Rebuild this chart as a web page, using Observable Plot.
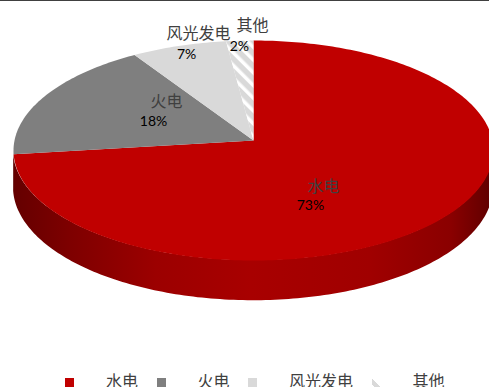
<!DOCTYPE html>
<html lang="zh">
<head>
<meta charset="utf-8">
<script src="https://cdn.jsdelivr.net/npm/d3@7"></script>
<script src="https://cdn.jsdelivr.net/npm/@observablehq/plot@0.6"></script>
<style>
  html, body { margin: 0; padding: 0; background: #fff; }
  #page { position: relative; width: 489px; height: 387px; overflow: hidden; border-top: 0; }
  #page::before { content: ""; position: absolute; left: 0; right: 0; top: 0; height: 1px; background: #404040; z-index: 2; }
  #legend {
    position: absolute; left: 65px; top: 369px; display: flex; align-items: flex-start;
    font: 16px/22px "Noto Sans CJK SC", sans-serif; color: #404040; white-space: nowrap;
  }
  #legend .item { display: flex; margin-right: 18.5px; }
  #legend .swatch { width: 9px; height: 9px; margin: 9px 32px 0 0; }
</style>
</head>
<body>
<div id="page"></div>
<script>
// Generation mix shares, in percent
const sources = ["水电", "火电", "风光发电", "其他"];
const shares = [73, 18, 7, 2];

// Appearance and layout of the tilted pie
const fills = ["#C00000", "#7F7F7F", "#D9D9D9", "url(#hatch)"];
const wallFills = ["url(#redWall)", "#5f5f5f", "#a3a3a3", "#a3a3a3"];
const namePlace = [[0.293, 0.422], [-0.364, -0.357], [-0.230, -0.981], [-0.004, -1.054]];
const sharePlace = [[0.238, 0.596], [-0.418, -0.174], [-0.280, -0.788], [-0.059, -0.862]];
const tilt = 1 / 11;     // perspective strength: the near rim looks larger than the far rim
const depth = 0.335;     // thickness of the disc

const width = 489, height = 366;
const unitX = 239, unitY = 109.09, cx = 253, cy = 140;

// Projects a clockwise angle from 12 o'clock (in degrees) onto the tilted disc.
function rim(deg) {
  const t = deg * Math.PI / 180;
  const z = -Math.cos(t), w = 1 - tilt * z;
  return { x: Math.sin(t) / w, y: z / w };
}

// Slice outlines and the visible part of each slice's side wall
const slices = [], walls = [];
const silhouette = Math.acos(tilt) * 180 / Math.PI;
const wallFrom = 90 + (90 - silhouette), wallTo = 270 - (90 - silhouette);
let running = 0;
sources.forEach((name, i) => {
  const a0 = running * 3.6, a1 = (running + shares[i]) * 3.6;
  running += shares[i];
  slices.push({ name, x: 0, y: 0 });
  for (let a = a0; ; a = Math.min(a + 1, a1)) {
    slices.push({ name, ...rim(a) });
    if (a >= a1) break;
  }
  const w0 = Math.max(a0, wallFrom), w1 = Math.min(a1, wallTo);
  if (w0 < w1) {
    for (let a = w0; ; a = Math.min(a + 1, w1)) {
      const p = rim(a);
      const w = 1 - tilt * (-Math.cos(a * Math.PI / 180));
      walls.push({ name, x: p.x, top: p.y, bottom: p.y + depth / w });
      if (a >= w1) break;
    }
  }
});

const labels = sources.map((name, i) => ({
  name,
  text: `${shares[i]}%`,
  nx: namePlace[i][0], ny: namePlace[i][1],
  sx: sharePlace[i][0], sy: sharePlace[i][1]
}));

const cjk = '"Noto Sans CJK SC", sans-serif';

const chart = Plot.plot({
  width, height,
  margin: 0,
  x: { axis: null, domain: [-cx / unitX, (width - cx) / unitX], range: [0, width] },
  y: { axis: null, domain: [-cy / unitY, (height - cy) / unitY], range: [0, height] },
  color: { domain: sources, range: fills },
  marks: [
    ...sources.map((name, i) => Plot.area(walls.filter(d => d.name === name), {
      x1: "x", y1: "top", y2: "bottom", fill: wallFills[i]
    })),
    Plot.line(slices, { x: "x", y: "y", z: "name", fill: "name", stroke: "none" }),
    Plot.text(labels, { x: "nx", y: "ny", text: "name", fontFamily: cjk, fontSize: 16, fill: "#404040" }),
    Plot.text(labels, { x: "sx", y: "sy", text: "text", fontFamily: "Lato, sans-serif", fontSize: 14, fill: "#000" })
  ]
});

// Paint servers for the hatched slice and the shaded side wall
const wallStops = [[0, "#640000"], [0.12, "#7e0000"], [0.3, "#9c0000"], [0.5, "#a80000"],
                   [0.75, "#a00000"], [0.92, "#8a0000"], [1, "#620000"]];
const defs = d3.create("svg:defs");
const hatch = defs.append("pattern").attr("id", "hatch").attr("patternUnits", "userSpaceOnUse")
  .attr("width", 4).attr("height", 9).attr("patternTransform", "rotate(45)");
hatch.append("rect").attr("width", 4).attr("height", 9).attr("fill", "#fff");
hatch.append("rect").attr("width", 4).attr("height", 5.5).attr("fill", "#D9D9D9");
const grad = defs.append("linearGradient").attr("id", "redWall").attr("gradientUnits", "userSpaceOnUse")
  .attr("x1", 13).attr("x2", 489).attr("y1", 0).attr("y2", 0);
wallStops.forEach(([o, c]) => grad.append("stop").attr("offset", o).attr("stop-color", c));
chart.prepend(defs.node());

const page = document.getElementById("page");
page.append(chart);

// Legend row under the chart
const legend = d3.select(page).append("div").attr("id", "legend");
sources.forEach((name, i) => {
  const item = legend.append("div").attr("class", "item");
  const sw = item.append("div").attr("class", "swatch");
  if (i < 3) sw.style("background", fills[i]);
  else sw.style("background", "repeating-linear-gradient(45deg,#fff 0,#fff 2px,#D9D9D9 2px,#D9D9D9 6px,#fff 6px,#fff 13px)");
  item.append("span").text(name);
});
</script>
</body>
</html>
